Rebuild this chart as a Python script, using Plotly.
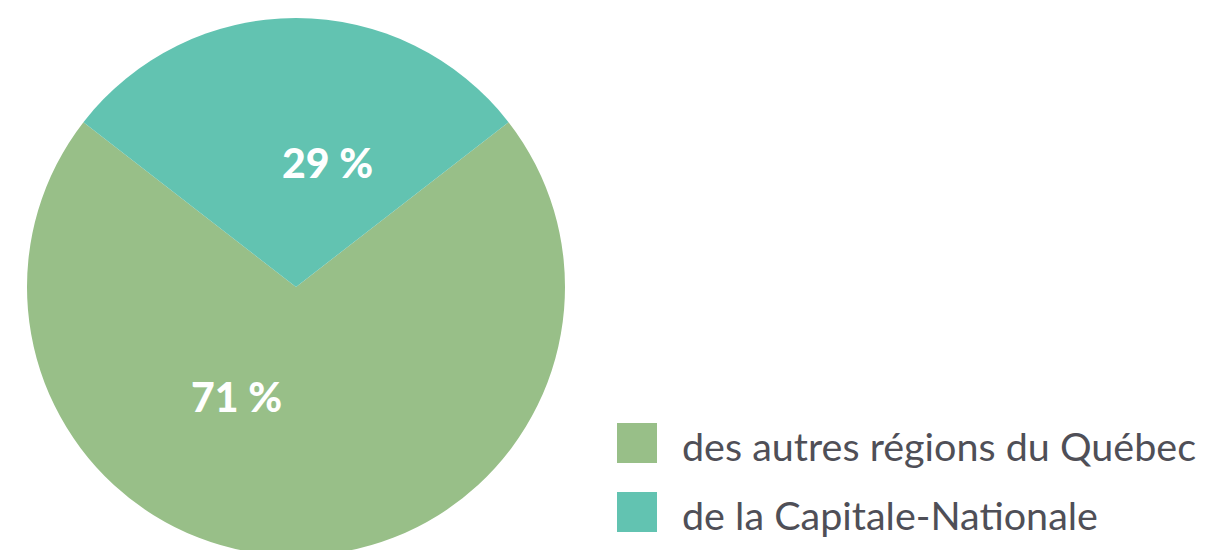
import plotly.graph_objects as go

labels = ["des autres régions du Québec", "de la Capitale-Nationale"]
values = [71, 29]
colors = ["#98BF88", "#62C3B1"]

W, H = 1210, 550
OFF = 8  # page body margin
# pie centre / radius in screen pixels (layout)
cx, cy, R = 296 - OFF, 287 - OFF, 269
label_px = [(236 - OFF, 396 - OFF), (327 - OFF, 162 - OFF)]
legend_sq = [(617 - OFF, 423 - OFF), (617 - OFF, 492 - OFF)]
sq = 40
text_x = 680 - OFF

fig = go.Figure(go.Pie(
    labels=labels,
    values=values,
    marker=dict(colors=colors, line=dict(width=0)),
    sort=False,
    direction="clockwise",
    rotation=360 * values[1] / sum(values) / 2,
    textinfo="none",
    hoverinfo="label+percent",
    showlegend=False,
    domain=dict(x=[(cx - R) / W, (cx + R) / W], y=[1 - (cy + R) / H, 1 - (cy - R) / H]),
))

annotations = []
shapes = []
for (px, py), v in zip(label_px, values):
    annotations.append(dict(
        x=px / W, y=1 - py / H, xref="paper", yref="paper",
        text=f"{v} %", showarrow=False, xanchor="center", yanchor="middle",
        font=dict(family="Lato", size=41, color="white", weight=900),
    ))
for (sx, sy), lab, c in zip(legend_sq, labels, colors):
    shapes.append(dict(
        type="rect", xref="paper", yref="paper",
        x0=sx / W, x1=(sx + sq) / W, y0=1 - sy / H, y1=1 - (sy + sq) / H,
        fillcolor=c, line=dict(width=0),
    ))
    annotations.append(dict(
        x=text_x / W, y=1 - (sy + sq / 2 + 2) / H, xref="paper", yref="paper",
        text=lab, showarrow=False, xanchor="left", yanchor="middle",
        font=dict(family="Lato", size=39.5, color="#4f4f57"),
    ))

fig.update_layout(
    width=W, height=H,
    margin=dict(l=0, r=0, t=0, b=0),
    paper_bgcolor="white", plot_bgcolor="white",
    annotations=annotations, shapes=shapes,
)

fig.write_html("out.html")
